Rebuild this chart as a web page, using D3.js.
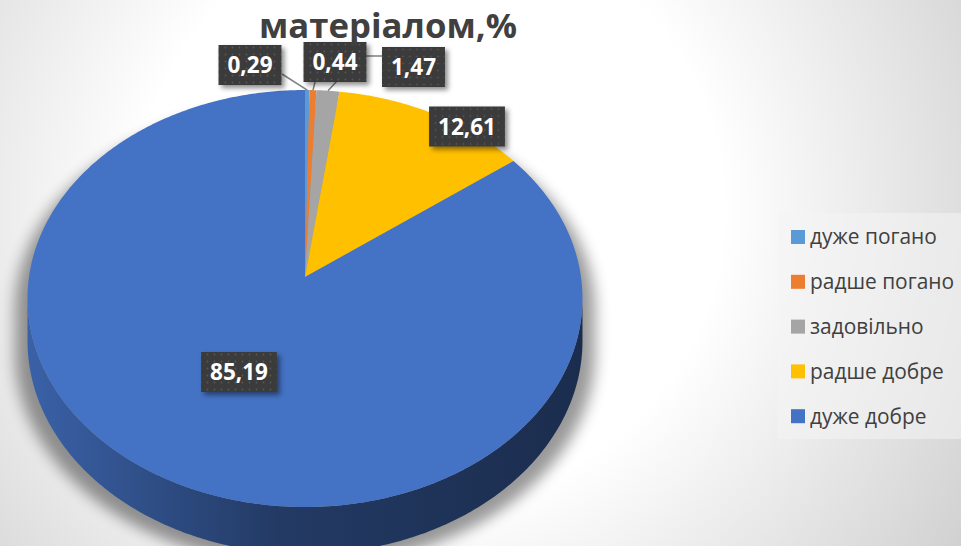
<!DOCTYPE html>
<html>
<head>
<meta charset="utf-8">
<script src="https://cdn.jsdelivr.net/npm/d3@7"></script>
<style>
  html, body { margin: 0; padding: 0; overflow: hidden; }
  svg { display: block; }
</style>
</head>
<body>
<div id="chart"></div>
<script>
// Chart data
const categories = ["дуже погано", "радше погано", "задовільно", "радше добре", "дуже добре"];
const values = [0.29, 0.44, 1.47, 12.61, 85.19];
const colors = ["#5b9bd5", "#ed7d31", "#a5a5a5", "#ffc000", "#4472c4"];
const titleText = "матеріалом,%";

const width = 961, height = 546;

const svg = d3.select("#chart").append("svg")
    .attr("width", width)
    .attr("height", height)
    .style("font-family", "'Open Sans', sans-serif");

const defs = svg.append("defs");

// Background: soft radial gradient
const bg = defs.append("radialGradient")
    .attr("id", "bg")
    .attr("gradientUnits", "userSpaceOnUse")
    .attr("cx", 430).attr("cy", 210).attr("r", 650);
bg.append("stop").attr("offset", 0).attr("stop-color", "#ffffff");
bg.append("stop").attr("offset", 0.45).attr("stop-color", "#ffffff");
bg.append("stop").attr("offset", 1).attr("stop-color", "#cecece");

svg.append("rect")
    .attr("width", width).attr("height", height)
    .attr("fill", "url(#bg)");

// Pie geometry (perspective-tilted disc)
const cx = 305, cy = 277, R = 276, ry = 177.7, k = -0.1031, depth = 42;

function proj(theta, dz = 0) {
    const u = Math.sin(theta), v = -Math.cos(theta);
    const w = 1 + k * v;
    return [cx + R * u / w, (ry * v + cy) / w + dz / w];
}

function rim(t0, t1, dz = 0) {
    const n = Math.max(2, Math.ceil(Math.abs(t1 - t0) / 0.01));
    return d3.range(n + 1).map(i => proj(t0 + (t1 - t0) * i / n, dz));
}

const line = d3.line();

const pie = d3.pie().sort(null).value(d => d)(values);

// visible range of the outer wall
const lo = Math.acos(k), hi = 2 * Math.PI - Math.acos(k);

// Shadow under the pie
const shadow = defs.append("filter")
    .attr("id", "shadow")
    .attr("x", "-20%").attr("y", "-20%")
    .attr("width", "140%").attr("height", "140%");
shadow.append("feGaussianBlur").attr("stdDeviation", 7);

svg.append("path")
    .attr("d", line(rim(hi, 2 * Math.PI).concat(rim(0, lo)).concat(rim(lo, hi, depth))) + "Z")
    .attr("fill", "#000")
    .attr("opacity", 0.4)
    .attr("transform", `translate(${cx},${cy + 12}) scale(1.045,1) translate(${-cx},${-cy})`)
    .attr("filter", "url(#shadow)");

// Outer walls
pie.forEach((s, i) => {
    const t0 = Math.max(s.startAngle, lo), t1 = Math.min(s.endAngle, hi);
    if (t0 >= t1) return;
    const base = d3.color(colors[i]);
    const g = defs.append("linearGradient")
        .attr("id", "side" + i)
        .attr("gradientUnits", "userSpaceOnUse")
        .attr("x1", cx - R).attr("x2", cx + R)
        .attr("y1", 0).attr("y2", 0);
    g.append("stop").attr("offset", 0).attr("stop-color", base.darker(0.45));
    g.append("stop").attr("offset", 0.45).attr("stop-color", base.darker(1.9));
    g.append("stop").attr("offset", 1).attr("stop-color", base.darker(2.6));
    const pts = rim(t0, t1).concat(rim(t1, t0, depth));
    svg.append("path")
        .attr("d", line(pts) + "Z")
        .attr("fill", `url(#side${i})`);
});

// Top face slices
svg.append("g")
    .selectAll("path")
    .data(pie)
    .enter()
    .append("path")
    .attr("d", d => line([[cx, cy]].concat(rim(d.startAngle, d.endAngle))) + "Z")
    .attr("fill", (d, i) => colors[i]);

// Data labels
const dots = defs.append("pattern")
    .attr("id", "dots")
    .attr("patternUnits", "userSpaceOnUse")
    .attr("width", 7).attr("height", 7);
dots.append("rect").attr("width", 7).attr("height", 7).attr("fill", "#3a3a3a");
dots.append("circle").attr("cx", 3.5).attr("cy", 3.5).attr("r", 0.9).attr("fill", "#575757");

const boxShadow = defs.append("filter")
    .attr("id", "boxShadow")
    .attr("x", "-30%").attr("y", "-30%")
    .attr("width", "160%").attr("height", "160%");
boxShadow.append("feDropShadow")
    .attr("dx", 3).attr("dy", 3)
    .attr("stdDeviation", 2.5)
    .attr("flood-color", "#000")
    .attr("flood-opacity", 0.45);

// label box centres, and leader line bends
const labelPos = [
    { x: 250, y: 65, leader: [[282, 74]] },
    { x: 335, y: 62, leader: [[315, 82]] },
    { x: 413.5, y: 67, leader: [[382, 56], [360, 56]] },
    { x: 467, y: 126.5 },
    { x: 239, y: 372 }
];

const fmt = v => v.toFixed(2).replace(".", ",");

// leader lines first, boxes drawn over them
pie.forEach((s, i) => {
    const p = labelPos[i];
    if (!p.leader) return;
    const mid = (s.startAngle + s.endAngle) / 2;
    svg.append("path")
        .attr("d", line(p.leader.concat([proj(mid)])))
        .attr("fill", "none")
        .attr("stroke", "#808080")
        .attr("stroke-width", 1.5);
});

pie.forEach((s, i) => {
    const p = labelPos[i];
    const g = svg.append("g").attr("transform", `translate(${p.x},${p.y})`);
    const rect = g.append("rect").attr("fill", "url(#dots)").attr("filter", "url(#boxShadow)");
    const t = g.append("text")
        .attr("text-anchor", "middle")
        .attr("dy", "0.36em")
        .attr("fill", "#fff")
        .attr("font-weight", "bold")
        .attr("font-size", 22.5)
        .text(fmt(values[i]));
    const w = t.node().getComputedTextLength() + 18;
    rect.attr("x", -w / 2).attr("y", -20).attr("width", w).attr("height", 40);
});

// Title
const title = svg.append("text")
    .attr("x", 388)
    .attr("y", 38)
    .attr("text-anchor", "middle")
    .attr("font-weight", "bold")
    .attr("fill", "#404040")
    .attr("font-size", 36)
    .text(titleText);
const tw = title.node().getComputedTextLength();
title.attr("font-size", 36 * 258 / tw);

// Legend
svg.append("rect")
    .attr("x", 778).attr("y", 213)
    .attr("width", 190).attr("height", 226)
    .attr("fill", "#f4f4f4")
    .attr("opacity", 0.55);

const legend = svg.append("g")
    .selectAll("g")
    .data(categories)
    .enter()
    .append("g")
    .attr("transform", (d, i) => `translate(791,${237 + i * 44.8})`);

legend.append("rect")
    .attr("x", 0).attr("y", -7)
    .attr("width", 14).attr("height", 14)
    .attr("fill", (d, i) => colors[i]);

const legendText = legend.append("text")
    .attr("x", 19)
    .attr("dy", "0.35em")
    .attr("fill", "#404040")
    .attr("font-size", 18)
    .text(d => d);
const lw = legendText.nodes()[0].getComputedTextLength();
legendText.attr("font-size", 18 * 127 / lw);
</script>
</body>
</html>
